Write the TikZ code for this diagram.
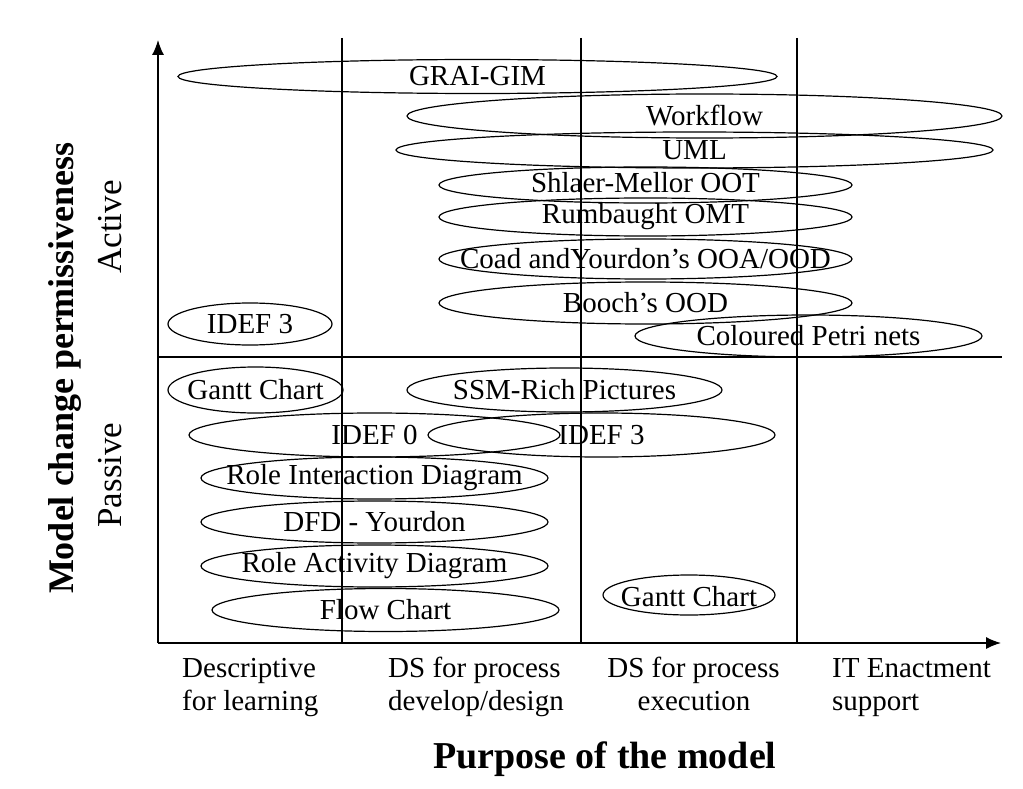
\documentclass[tikz,border=0pt]{standalone}
\usepackage{fontspec}
\setmainfont{Liberation Serif}
\usetikzlibrary{shapes.geometric,arrows.meta}
\newcommand\lblfont{\fontsize{29}{33}\selectfont}
\newcommand\sidefont{\fontsize{35}{40}\selectfont}
\newcommand\titlefont{\fontsize{36}{40}\selectfont\bfseries}
\newcommand\xtitlefont{\fontsize{38}{42}\selectfont\bfseries}
\begin{document}
\begin{tikzpicture}[x=1pt,y=-1pt,
  ell/.style={draw, ellipse, line width=1.2pt, inner sep=0pt},
  lab/.style={font=\lblfont, inner sep=0pt},
  axisline/.style={line width=1.3pt, -{Latex[length=15pt,width=12pt]}},
  gridline/.style={line width=1.2pt},
  txt/.style={font=\lblfont, inner sep=0pt}]
\useasboundingbox (0,0) rectangle (1023,789);

% axes and grid
\coordinate (o) at (158,643);
\coordinate (ytop) at (158,40);
\coordinate (xend) at (1001,643);
\coordinate (d1t) at (342,38);  \coordinate (d1b) at (342,643);
\coordinate (d2t) at (581,38);  \coordinate (d2b) at (581,643);
\coordinate (d3t) at (797,38);  \coordinate (d3b) at (797,643);
\coordinate (ml) at (158,357);  \coordinate (mr) at (1002,357);
\draw[axisline] (o) -- (ytop);
\draw[axisline] (o) -- (xend);
\draw[gridline] (d1t) -- (d1b);
\draw[gridline] (d2t) -- (d2b);
\draw[gridline] (d3t) -- (d3b);
\draw[gridline] (ml) -- (mr);

% active region
\node[ell, minimum width=599pt, minimum height=34pt, label={[lab]center:GRAI-GIM}] (grai) at (477.5,76.5) {};
\node[ell, minimum width=595pt, minimum height=44pt, label={[lab]center:Workflow}] (wf) at (704.5,116) {};
\node[ell, minimum width=597pt, minimum height=36pt, label={[lab]center:UML}] (uml) at (694.5,150) {};
\node[ell, minimum width=413pt, minimum height=36pt, label={[lab,yshift=2pt]center:Shlaer-Mellor OOT}] (shl) at (645.5,185) {};
\node[ell, minimum width=413pt, minimum height=38pt, label={[lab]center:Rumbaught OMT}] (rum) at (645.5,217) {};
\node[ell, minimum width=413pt, minimum height=40pt, label={[lab]center:Coad andYourdon’s OOA/OOD}] (coad) at (645.5,259) {};
\node[ell, minimum width=413pt, minimum height=42pt, label={[lab]center:Booch’s OOD}] (booch) at (645.5,303) {};
\node[ell, minimum width=347pt, minimum height=42pt, label={[lab]center:Coloured Petri nets}] (cpn) at (808.5,336) {};
\node[ell, minimum width=164pt, minimum height=42pt, label={[lab]center:IDEF 3}] (idefa) at (250,324) {};

% passive region
\node[ell, minimum width=175pt, minimum height=46pt, label={[lab]center:Gantt Chart}] (ganttl) at (255.5,390) {};
\node[ell, minimum width=315pt, minimum height=44pt, label={[lab]center:SSM-Rich Pictures}] (ssm) at (564.5,390) {};
\node[ell, minimum width=371pt, minimum height=44pt, label={[lab]center:IDEF 0}] (idef0) at (374.5,435) {};
\node[ell, minimum width=347pt, minimum height=44pt, label={[lab]center:IDEF 3}] (idefp) at (601.5,435) {};
\node[ell, minimum width=347pt, minimum height=42pt, label={[lab]center:Role Interaction Diagram}] (rid) at (374.5,478) {};
\node[ell, minimum width=347pt, minimum height=42pt, label={[lab]center:DFD - Yourdon}] (dfd) at (374.5,522) {};
\node[ell, minimum width=347pt, minimum height=42pt, label={[lab]center:Role Activity Diagram}] (rad) at (374.5,566) {};
\node[ell, minimum width=347pt, minimum height=43pt, label={[lab]center:Flow Chart}] (flow) at (385.5,610) {};
\node[ell, minimum width=172pt, minimum height=40pt, label={[lab,yshift=-2pt]center:Gantt Chart}] (ganttr) at (689,595) {};

% axis category labels
\node[txt, anchor=base west] (c1a) at (182,677) {Descriptive};
\node[txt, anchor=base west] (c1b) at (182,710) {for learning};
\node[txt, anchor=base west] (c2a) at (388,677) {DS for process};
\node[txt, anchor=base west] (c2b) at (388,710) {develop/design};
\node[txt, anchor=base] (c3a) at (693.5,677) {DS for process};
\node[txt, anchor=base] (c3b) at (694,710) {execution};
\node[txt, anchor=base west] (c4a) at (832,677) {IT Enactment};
\node[txt, anchor=base west] (c4b) at (832,710) {support};

\node[font=\xtitlefont, inner sep=0pt, anchor=base] (xt) at (605,768) {Purpose of the model};
\node[font=\titlefont, inner sep=0pt, rotate=90] (yt) at (65,368) {Model change permissiveness};
\node[font=\sidefont, inner sep=0pt, rotate=90] (act) at (110,227) {Active};
\node[font=\sidefont, inner sep=0pt, rotate=90] (pas) at (110,475) {Passive};
\end{tikzpicture}
\end{document}
